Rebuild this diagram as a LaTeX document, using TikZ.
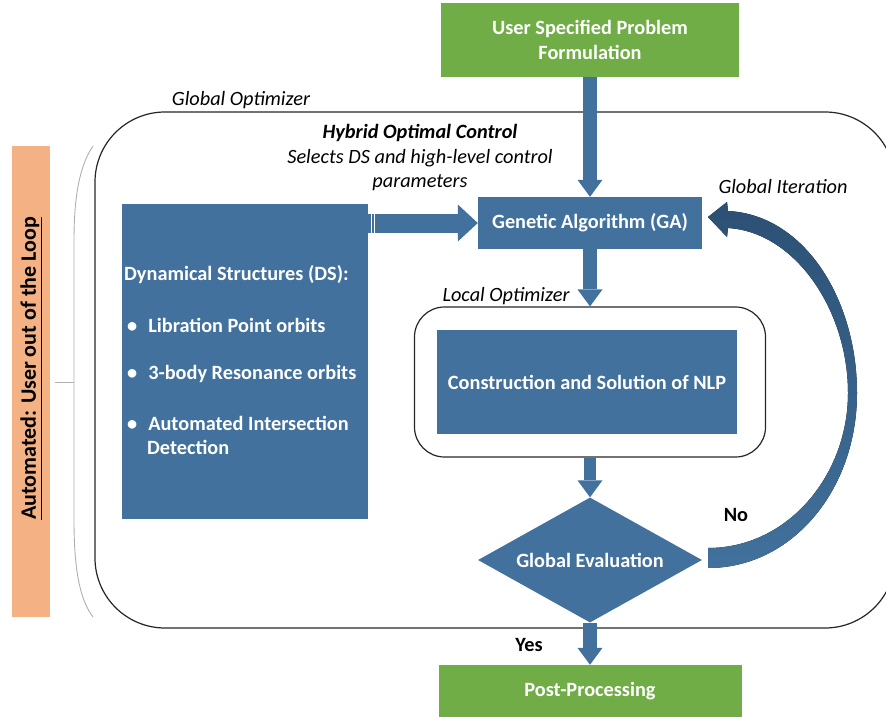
\documentclass[tikz,border=0pt]{standalone}
\usepackage{fontspec}
\setmainfont{Carlito}
\usetikzlibrary{arrows.meta,positioning,shapes.geometric}
\definecolor{hocblue}{RGB}{65,113,156}
\definecolor{hocblue2}{RGB}{44,80,116}
\definecolor{hocgreen}{RGB}{112,173,71}
\definecolor{hocorange}{RGB}{244,177,131}
\definecolor{hocgray}{RGB}{175,175,175}
\newcommand{\hocfont}{\fontsize{20.3}{24.5}\selectfont}

\begin{document}
\begin{tikzpicture}[x=1pt,y=-1pt,
  bluebox/.style={fill=hocblue,text=white,font=\hocfont\bfseries,inner sep=0pt,align=center},
  greenbox/.style={fill=hocgreen,text=white,font=\hocfont\bfseries,inner sep=0pt,align=center},
  frame/.style={draw=black!85,line width=1.2pt},
  dsline/.style={anchor=west,text=white,font=\hocfont\bfseries,inner sep=0pt},
  note/.style={font=\hocfont\itshape,inner sep=0pt},
  answer/.style={font=\hocfont\bfseries,inner sep=0pt},
  blockarrow/.style={draw=hocblue,line width=14pt,-{Triangle[length=17pt,width=25pt,line width=0pt]}},
  widearrow/.style={draw=hocblue,line width=19pt,-{Triangle[length=20pt,width=37pt,line width=0pt]}}]
  \clip (0,0) rectangle (886,717);
  % outer frames
  \node[frame,rounded corners=70pt,minimum width=800pt,minimum height=516pt] (global) at (495,370) {};
  \node[frame,rounded corners=30pt,minimum width=351pt,minimum height=150pt] (local) at (590,382) {};
  \draw[hocgray,line width=0.9pt] (93,146) .. controls (80,165) and (74,195) .. (74,240) -- (74,520) .. controls (74,570) and (80,600) .. (93,617);
  \draw[hocgray,line width=0.9pt] (74,382) -- (55,382);
  \node[fill=hocorange,rotate=90,minimum width=471pt,minimum height=38pt,font=\fontsize{22}{26}\selectfont\bfseries] (auto) at (31,381.5) {\hspace*{26pt}\underline{Automated: User out of the Loop}};
  % boxes
  \node[greenbox,minimum width=298pt,minimum height=74pt] (spec) at (590,40) {User Specified Problem\\Formulation};
  \node[greenbox,minimum width=303pt,minimum height=52pt] (post) at (590,691) {Post-Processing};
  \node[bluebox,minimum width=224pt,minimum height=52pt] (ga) at (590,223) {Genetic Algorithm (GA)};
  \node[bluebox,minimum width=300pt,minimum height=104pt] (nlp) at (587,382) {Construction and Solution of NLP};
  \node[bluebox,diamond,aspect=1.8,minimum width=224pt,minimum height=125pt] (eval) at (590,560) {Global Evaluation};
  \node[bluebox,minimum width=246pt,minimum height=315pt] (ds) at (245,361.5) {};
  \node[dsline] (dshead) at (124,275) {Dynamical Structures (DS):};
  \node[dsline] (ds1) at (127,325) {\textbullet\hspace{11pt}Libration Point orbits};
  \node[dsline] (ds2) at (127,374) {\textbullet\hspace{11pt}3-body Resonance orbits};
  \node[dsline] (ds3) at (127,423) {\textbullet\hspace{11pt}Automated Intersection};
  \node[dsline] (ds4) at (147,447) {Detection};
  % labels
  \node[note] (globlabel) at (241,100) {Global Optimizer};
  \node[note,font=\hocfont\bfseries\itshape] (hoc) at (420,133) {Hybrid Optimal Control};
  \node[note,align=center] (hocsub) at (420,170) {Selects DS and high-level control\\parameters};
  \node[note] (loclabel) at (506,296) {Local Optimizer};
  \node[note] (iterlabel) at (783,187) {Global Iteration};
  \node[answer] (no) at (736,515) {No};
  \node[answer] (yes) at (529,645) {Yes};
  % arrows
  \draw[blockarrow] (spec) -- (ga);
  \draw[blockarrow] (ga) -- (local);
  \draw[blockarrow,line width=12pt] (local) -- (eval);
  \draw[blockarrow] (eval) -- (post);
  \draw[widearrow] (ds.east |- ga.west) -- (ga.west);
  \draw[white,line width=0.7pt] (371,213.5) -- (371,232.5) (374.5,213.5) -- (374.5,232.5);
  \coordinate (iterstart) at (708,558);
  \coordinate (iterend) at (708,217);
  \fill[top color=hocblue2,bottom color=hocblue] (708,548) .. controls (788,548) and (848,475) .. (848,393)
    .. controls (848,310) and (795,232) .. (728,228) -- (727,237) -- (iterend) -- (727,202) -- (728,211)
    .. controls (805,215) and (857,300) .. (857,393) .. controls (857,490) and (792,568) .. (708,568) -- cycle;
\end{tikzpicture}
\end{document}
